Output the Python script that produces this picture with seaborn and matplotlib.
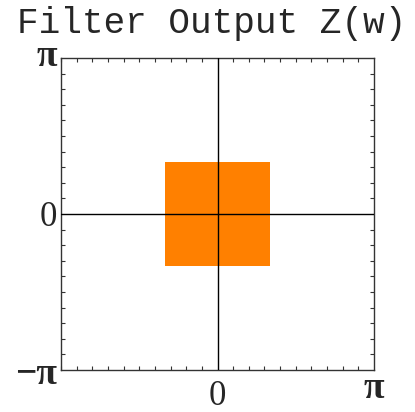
import numpy as np
import matplotlib
matplotlib.use("Agg")
import matplotlib.pyplot as plt
import matplotlib.transforms as mtransforms
from matplotlib.colors import ListedColormap
from matplotlib.ticker import MultipleLocator
import seaborn as sns

# Frequency domain and passband of the filter (radians)
domain = [-np.pi, np.pi]
passband_wx = [-np.pi / 3, np.pi / 3]
passband_wy = [-np.pi / 3, np.pi / 3]
gain = [1.0]
title = "Filter Output Z(w)"
xtick_values = [0, np.pi]
xtick_labels = ["0", "π"]
ytick_values = [-np.pi, 0, np.pi]
ytick_labels = ["−π", "0", "π"]
fill_color = "#FF8000"

sns.set_theme(style="white")
plt.rcParams["font.family"] = ["Liberation Serif", "DejaVu Serif"]

fig = plt.figure(figsize=(4.15, 4.12), dpi=100)
ax = fig.add_axes([61 / 415, 42 / 412, 313 / 415, 312 / 412])

# Passband drawn as a single-bin 2D histogram weighted by the gain
centre = [0.0]
sns.histplot(
    x=centre, y=centre, weights=gain,
    bins=1, binrange=(tuple(passband_wx), tuple(passband_wy)),
    cmap=ListedColormap([fill_color]), ax=ax, cbar=False,
)

ax.axhline(0, color="black", lw=1.0, zorder=3)
ax.axvline(0, color="black", lw=1.0, zorder=3)

ax.set_xlim(domain)
ax.set_ylim(domain)
ax.set_xlabel("")
ax.set_ylabel("")

for s in ax.spines.values():
    s.set_visible(True)
    s.set_color("#333333")
    s.set_linewidth(1.0)

ax.xaxis.set_minor_locator(MultipleLocator(np.pi / 10))
ax.yaxis.set_minor_locator(MultipleLocator(np.pi / 10))
ax.tick_params(which="minor", direction="in", length=3, width=0.8,
               color="#333333", top=True, right=True, bottom=True, left=True)
ax.tick_params(which="major", length=0, labelsize=25, pad=3)

ax.set_xticks(xtick_values)
ax.set_xticklabels(xtick_labels)
ax.set_yticks(ytick_values)
ax.set_yticklabels(ytick_labels)

# π labels are set heavier and slightly larger, as in math typesetting
for lab in ax.get_xticklabels() + ax.get_yticklabels():
    if "π" in lab.get_text():
        lab.set_fontweight("bold")
        lab.set_fontsize(27)

# The x-axis label for π sits a bit higher than the one for 0
xlabels = ax.get_xticklabels()
xlabels[0].set_transform(xlabels[0].get_transform()
                         + mtransforms.ScaledTranslation(0, -4 / 72, fig.dpi_scale_trans))
xlabels[1].set_transform(xlabels[1].get_transform()
                         + mtransforms.ScaledTranslation(0, 2 / 72, fig.dpi_scale_trans))
ylabels = ax.get_yticklabels()
ylabels[2].set_transform(ylabels[2].get_transform()
                         + mtransforms.ScaledTranslation(0, 4 / 72, fig.dpi_scale_trans))

ax.set_title(title, family=["Liberation Mono", "DejaVu Sans Mono"],
             fontsize=26, pad=18, x=0.48)

fig.savefig("out.png", dpi=100)
